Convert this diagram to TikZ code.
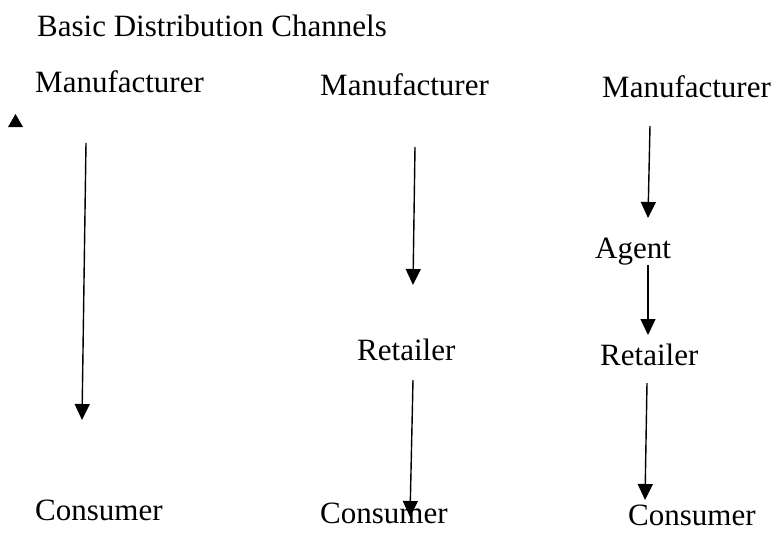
\documentclass[tikz,border=0pt]{standalone}
\usepackage{fontspec}
\setmainfont{Liberation Serif}
\usetikzlibrary{arrows.meta}

\begin{document}
\begin{tikzpicture}
[x=1pt, y=-1pt, every node/.style={inner sep=0pt},
 label/.style={anchor=base west, font=\fontsize{31}{37}\selectfont},
 flow/.style={line width=1.4pt, -{Triangle[length=16pt, width=15pt]}}]
\useasboundingbox (0,0) rectangle (774,533);
\node (title) [label] at (37, 36) {Basic Distribution Channels};
\node (m1) [label] at (35, 92) {Manufacturer};
\node (m2) [label] at (320, 95) {Manufacturer};
\node (m3) [label] at (602, 97) {Manufacturer};
\node (a3) [label] at (595, 258) {Agent};
\node (r2) [label] at (357, 360) {Retailer};
\node (r3) [label] at (600, 365) {Retailer};
\node (c1) [label] at (35, 520) {Consumer};
\node (c2) [label] at (320, 523) {Consumer};
\node (c3) [label] at (628, 525) {Consumer};
\fill (8, 127) -- (23, 127) -- (15.5, 114) -- cycle;
\coordinate (m1s) at (86, 143);
\coordinate (c1e) at (82, 420);
\coordinate (m2s) at (415, 147);
\coordinate (r2e) at (413, 285);
\coordinate (r2s) at (413, 380);
\coordinate (c2e) at (410, 517);
\coordinate (m3s) at (650, 126);
\coordinate (a3e) at (648, 218);
\coordinate (a3s) at (648, 265);
\coordinate (r3e) at (648, 335);
\coordinate (r3s) at (647, 383);
\coordinate (c3e) at (645, 500);
\draw [flow] (m1s) to (c1e);
\draw [flow] (m2s) to (r2e);
\draw [flow] (r2s) to (c2e);
\draw [flow] (m3s) to (a3e);
\draw [flow] (a3s) to (r3e);
\draw [flow] (r3s) to (c3e);
\end{tikzpicture}
\end{document}
